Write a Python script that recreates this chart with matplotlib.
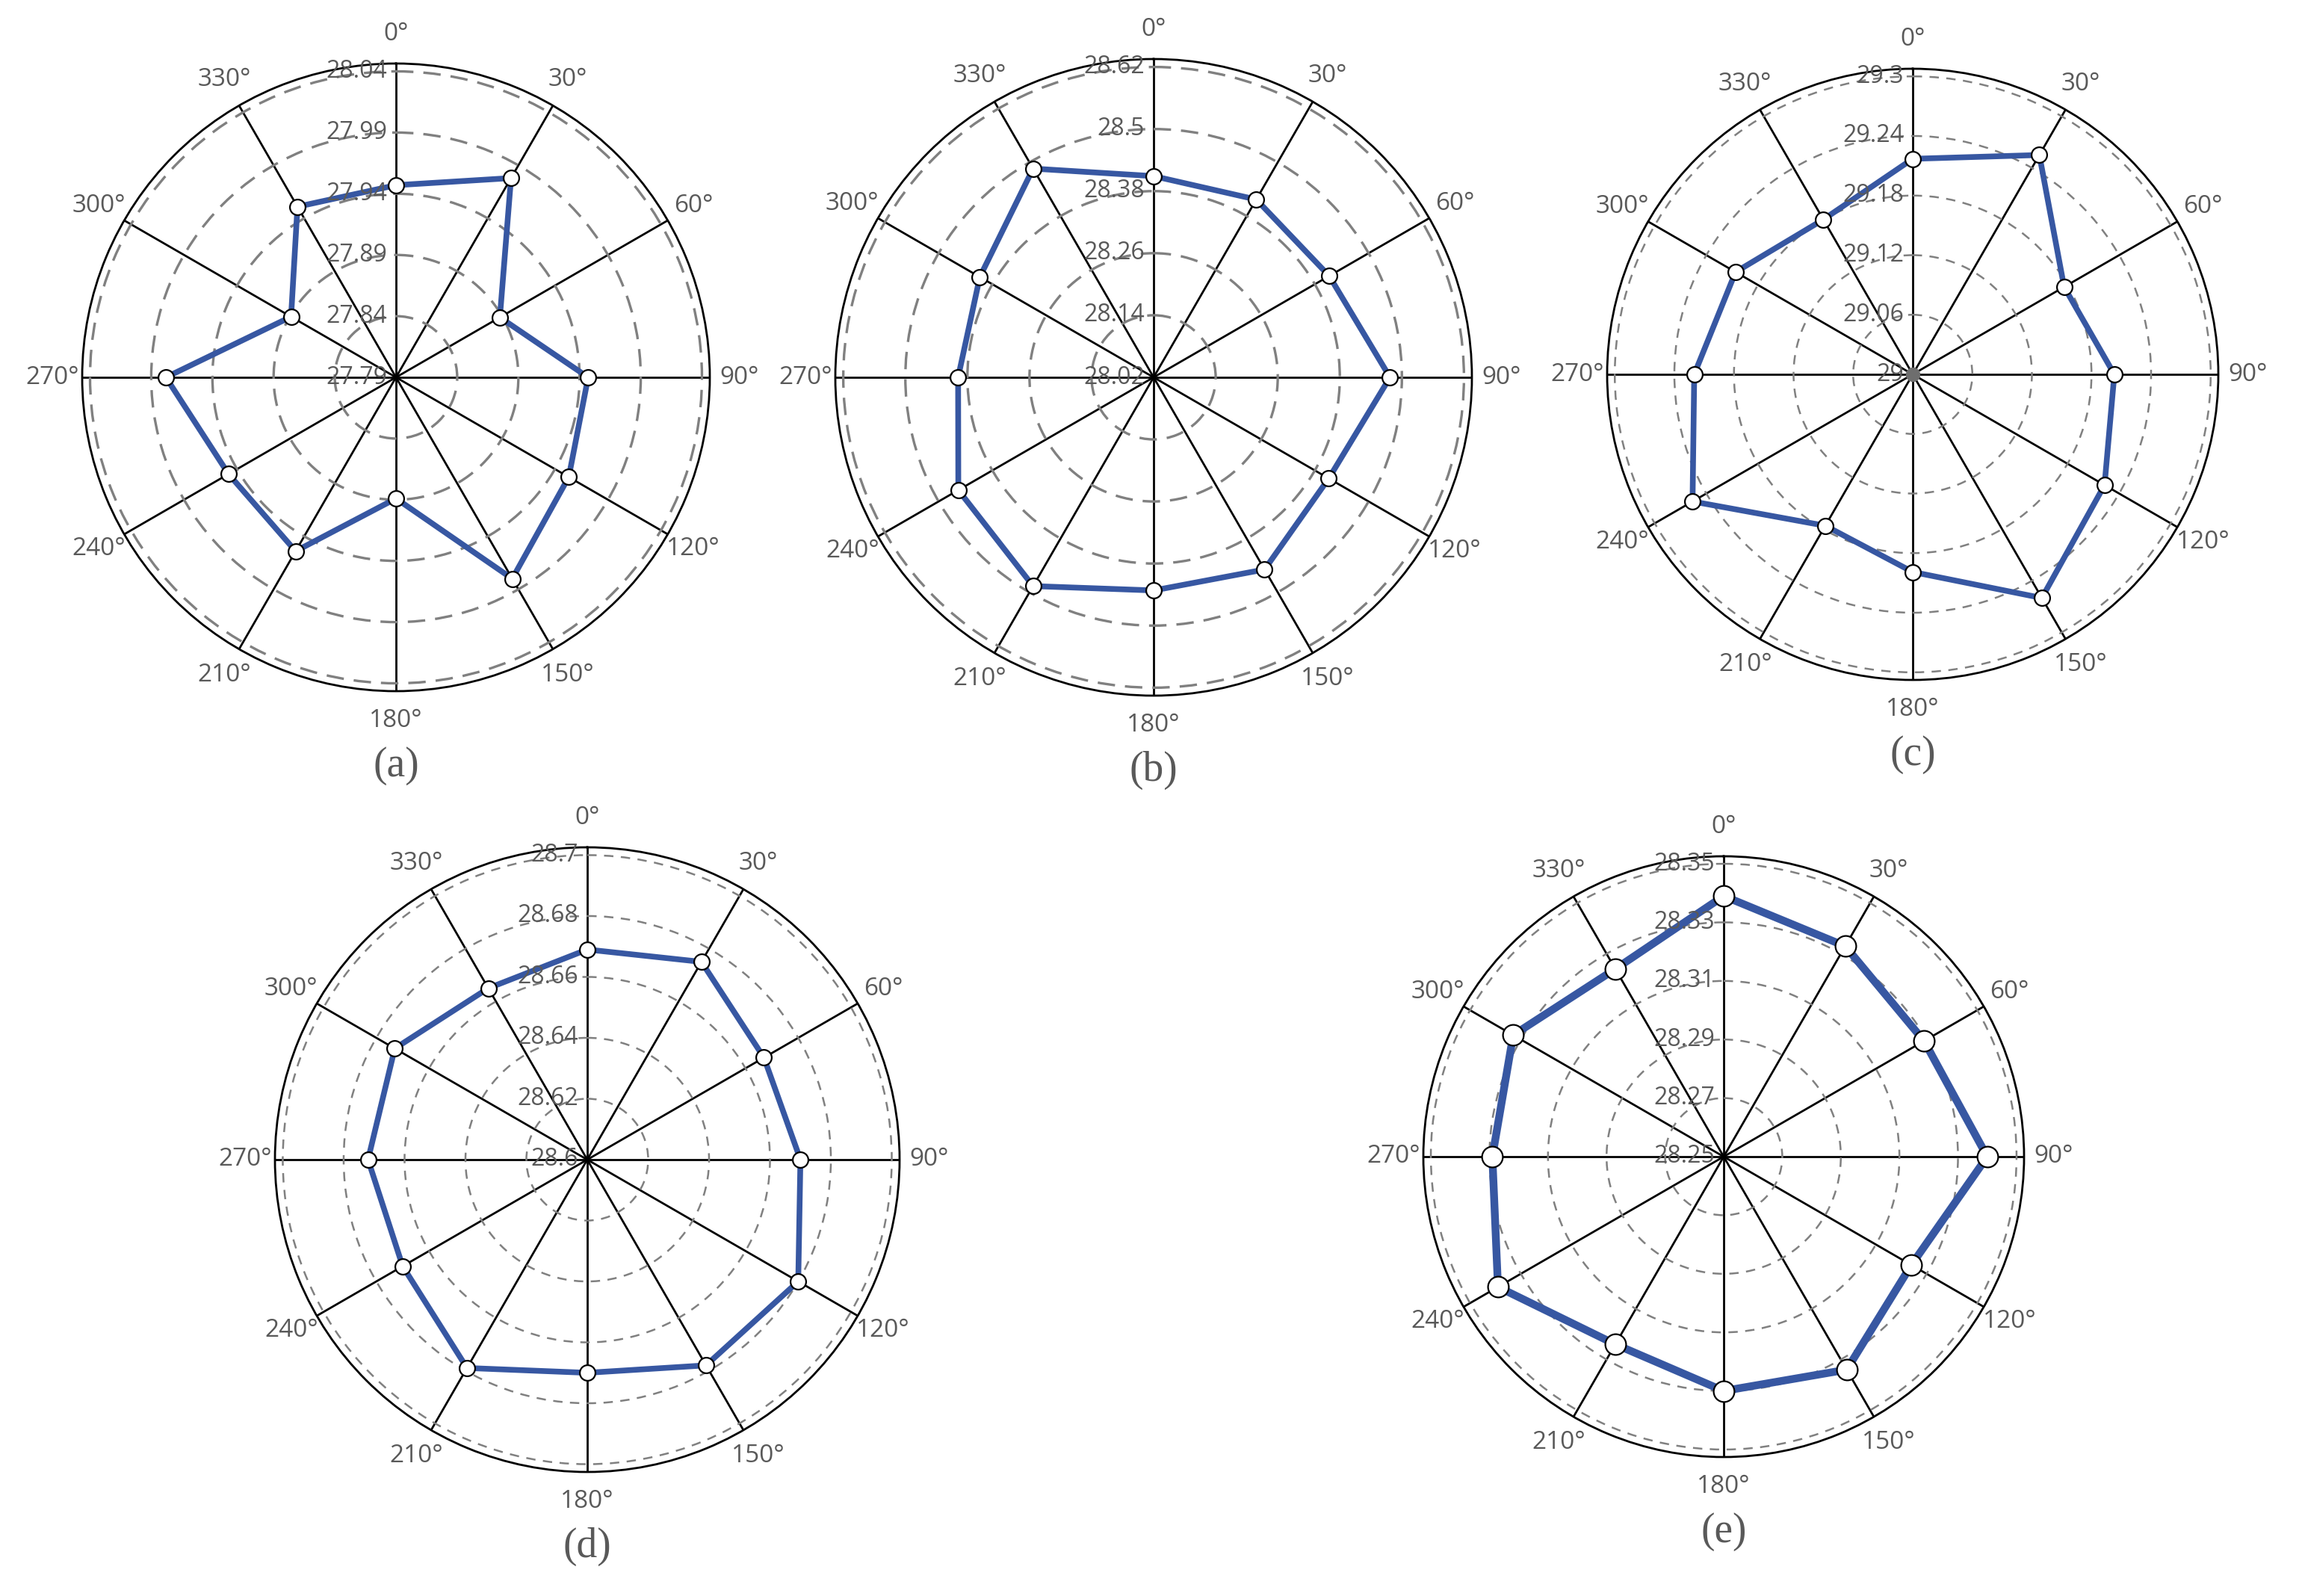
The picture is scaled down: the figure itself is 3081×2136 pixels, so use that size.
import numpy as np
import matplotlib
matplotlib.use('Agg')
import matplotlib.pyplot as plt
from matplotlib.transforms import offset_copy

plt.rcParams['font.family'] = ['Open Sans', 'DejaVu Sans']

W, H = 3081, 2136
fig = plt.figure(figsize=(W / 100, H / 100), dpi=100)
fig.patch.set_facecolor('white')

# data: 12 directions, value per direction for each panel
angles_deg = [0, 30, 60, 90, 120, 150, 180, 210, 240, 270, 300, 330]

vals_a = [27.947, 27.978, 27.888, 27.947, 27.953, 27.980,
          27.889, 27.954, 27.948, 27.978, 27.889, 27.951]
vals_b = [28.409, 28.417, 28.412, 28.477, 28.411, 28.449,
          28.432, 28.486, 28.456, 28.398, 28.408, 28.486]
vals_c = [29.217, 29.255, 29.176, 29.203, 29.223, 29.260,
          29.199, 29.176, 29.256, 29.220, 29.206, 29.180]
vals_d = [28.669, 28.675, 28.667, 28.670, 28.680, 28.678,
          28.670, 28.679, 28.670, 28.672, 28.673, 28.665]
vals_e = [28.339, 28.333, 28.329, 28.340, 28.324, 28.334,
          28.330, 28.324, 28.339, 28.329, 28.333, 28.324]

ticks_a = [27.79, 27.84, 27.89, 27.94, 27.99, 28.04]
ticks_b = [28.02, 28.14, 28.26, 28.38, 28.5, 28.62]
ticks_c = [29, 29.06, 29.12, 29.18, 29.24, 29.3]
ticks_d = [28.6, 28.62, 28.64, 28.66, 28.68, 28.7]
ticks_e = [28.25, 28.27, 28.29, 28.31, 28.33, 28.35]

tick_text_a = ['27.79', '27.84', '27.89', '27.94', '27.99', '28.04']
tick_text_b = ['28.02', '28.14', '28.26', '28.38', '28.5', '28.62']
tick_text_c = ['29', '29.06', '29.12', '29.18', '29.24', '29.3']
tick_text_d = ['28.6', '28.62', '28.64', '28.66', '28.68', '28.7']
tick_text_e = ['28.25', '28.27', '28.29', '28.31', '28.33', '28.35']

GRAY_TXT = '#595959'
BLUE = '#3757A2'


def panel(cx, cy, R, vals, ticks, tick_text, letter, lw=5.5, ms=15,
          dash=(6, 4), grid_lw=1.6, center_dot=False):
    rect = [(cx - R) / W, 1 - (cy + R) / H, 2 * R / W, 2 * R / H]
    ax = fig.add_axes(rect, projection='polar')
    ax.set_theta_zero_location('N')
    ax.set_theta_direction(-1)

    rng = ticks[-1] - ticks[0]
    ax.set_ylim(ticks[0], ticks[0] + rng / 0.975)

    ax.set_thetagrids(angles_deg, [f'{a}°' for a in angles_deg])
    ax.set_rgrids(ticks, [''] * len(ticks))
    ax.xaxis.grid(True, color='black', linewidth=2.0, linestyle='-')
    ax.yaxis.grid(True, color='#808080', linewidth=grid_lw, linestyle=(0, dash))
    ax.tick_params(axis='x', labelsize=24, labelcolor=GRAY_TXT, pad=18)
    ax.spines['polar'].set_color('black')
    ax.spines['polar'].set_linewidth(2.0)
    ax.set_axisbelow(True)

    th = np.deg2rad(angles_deg + angles_deg[:1])
    r = list(vals) + [vals[0]]
    ax.plot(th, r, color=BLUE, linewidth=lw, zorder=3)
    ax.plot(th[:-1], vals, linestyle='none', marker='o', markersize=ms,
            markerfacecolor='white', markeredgecolor='black',
            markeredgewidth=1.6, zorder=4)
    if center_dot:
        ax.plot([0], [ticks[0]], marker='o', markersize=13, color='#6e6e6e',
                zorder=6, clip_on=False)

    # radial labels, right aligned just left of the 0° spoke
    trans = offset_copy(ax.transData, fig=fig, x=-12, y=0, units='dots')
    for t, s in zip(ticks, tick_text):
        ax.text(0, t, s, transform=trans, ha='right', va='center',
                fontsize=23, color=GRAY_TXT, zorder=5)

    fig.text(cx / W, 1 - (cy + R + 100) / H, letter, ha='center', va='center',
             fontsize=40, color=GRAY_TXT, family='Liberation Serif')
    return ax


panel(530, 505, 420, vals_a, ticks_a, tick_text_a, '(a)', dash=(7, 4), grid_lw=2.4)
panel(1544, 505, 426, vals_b, ticks_b, tick_text_b, '(b)', dash=(7, 4), grid_lw=2.4)
panel(2560, 501, 409, vals_c, ticks_c, tick_text_c, '(c)', dash=(5, 4), grid_lw=1.8,
      center_dot=True)
panel(786, 1552, 418, vals_d, ticks_d, tick_text_d, '(d)', dash=(5, 4), grid_lw=1.8)
panel(2307, 1548, 402, vals_e, ticks_e, tick_text_e, '(e)', lw=7.5, ms=20,
      dash=(5, 4), grid_lw=1.8)

fig.savefig('out.png', dpi=100, facecolor='white')
